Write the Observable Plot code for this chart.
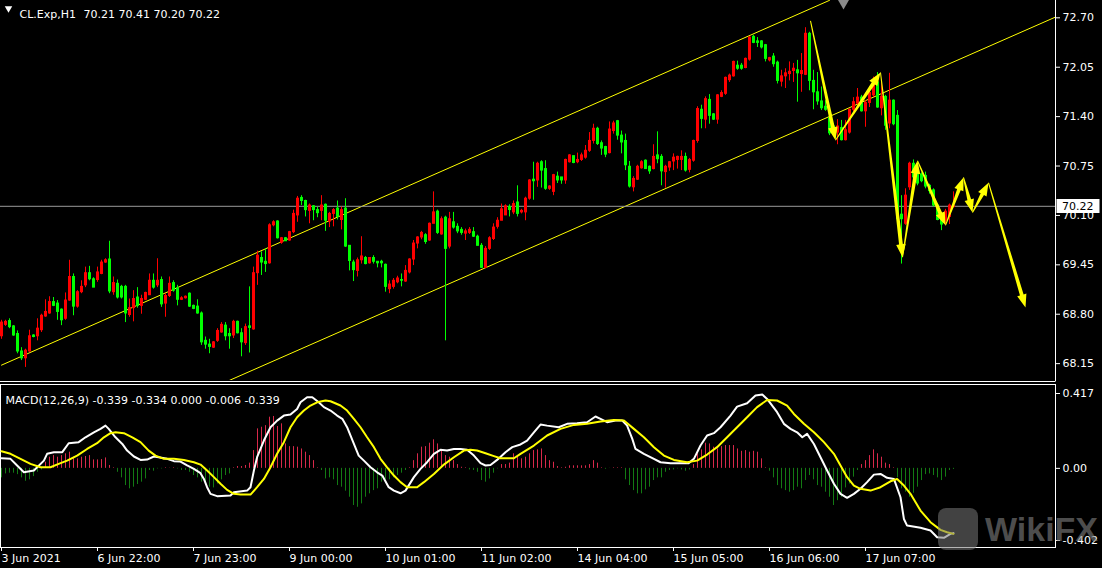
<!DOCTYPE html>
<html><head><meta charset="utf-8">
<script src="https://cdn.jsdelivr.net/npm/d3@7"></script>
<script src="https://cdn.jsdelivr.net/npm/@observablehq/plot@0.6"></script>
<style>
html,body{margin:0;padding:0;background:#000;width:1102px;height:568px;overflow:hidden}
#wrap{position:relative;width:1102px;height:568px;background:#000}
#wrap svg{display:block}
#wm{position:absolute;left:938px;top:508px;width:160px;height:46px;pointer-events:none}
#wm .logo{position:absolute;left:0;top:0;width:40px;height:42px;border-radius:8px;background:rgba(120,120,120,0.55)}
#wm .txt{position:absolute;left:47px;top:2px;font:bold 34px "Liberation Sans",sans-serif;color:rgba(130,130,130,0.6)}
</style></head><body><div id="wrap"></div>
<script>
// ---- data ----
const opens = [68.51,68.66,68.71,68.64,68.54,68.31,68.22,68.31,68.52,68.51,
68.59,68.77,68.81,68.96,68.94,68.86,68.74,68.98,69.29,68.90,
69.09,69.18,69.34,69.26,69.25,69.33,69.48,69.52,69.09,69.20,
69.16,69.16,68.79,68.88,69.02,68.91,68.99,69.05,69.24,69.18,
69.25,68.94,69.04,69.21,69.14,68.99,69.01,69.07,68.91,68.90,
68.81,68.45,68.40,68.36,68.45,68.56,68.65,68.54,68.52,68.70,
68.55,68.42,68.64,68.60,69.34,69.54,69.49,69.47,69.97,70.02,
69.74,69.80,69.77,69.88,70.10,70.33,70.29,70.16,70.22,70.17,
70.16,70.24,70.02,70.12,70.19,70.04,70.19,69.70,69.48,69.37,
69.51,69.54,69.47,69.54,69.49,69.49,69.45,69.13,69.16,69.22,
69.25,69.23,69.35,69.52,69.73,69.81,69.84,69.77,69.99,70.15,
69.85,70.07,69.69,70.01,69.95,69.91,69.86,69.87,69.88,69.82,
69.70,69.41,69.66,69.79,69.95,70.03,70.10,70.21,70.14,70.27,
70.14,70.14,70.32,70.57,70.56,70.80,70.71,70.45,70.41,70.61,
70.60,70.56,70.80,70.88,70.80,70.83,70.86,70.95,71.08,71.24,
71.05,71.00,70.92,71.21,71.34,71.15,71.08,70.74,70.47,70.57,
70.72,70.82,70.74,70.71,70.89,70.87,70.67,70.73,70.81,70.83,
70.83,70.87,70.70,70.82,71.08,71.49,71.36,71.62,71.43,71.36,
71.66,71.70,71.88,71.93,72.07,72.07,72.04,72.15,72.45,72.39,
72.39,72.34,72.14,72.19,72.11,71.86,71.93,71.96,72.00,72.01,
71.96,71.95,72.49,71.87,71.72,71.60,71.53,71.38,71.27,71.19,
71.25,71.09,71.19,71.49,71.57,71.65,71.47,71.58,71.68,71.85,
71.51,71.66,71.31,71.61,71.41,70.11,69.99,70.47,70.78,70.69,
70.64,70.62,70.49,70.43,70.23,70.08,70.03,70.08,70.21];
const highs = [68.72,68.72,68.74,68.65,68.58,68.36,68.34,68.59,68.53,68.74,
68.80,68.99,69.03,69.02,68.98,68.87,69.08,69.51,69.33,69.11,
69.24,69.42,69.43,69.28,69.42,69.51,69.53,69.76,69.29,69.25,
69.18,69.18,69.00,69.11,69.15,69.05,69.09,69.33,69.33,69.53,
69.29,69.07,69.29,69.24,69.18,69.03,69.04,69.08,68.92,68.99,
68.83,68.50,68.47,68.44,68.61,68.69,68.69,68.61,68.72,68.71,
68.61,68.67,69.16,69.42,69.63,69.62,69.66,69.99,70.03,70.03,
69.81,69.81,69.89,70.17,70.35,70.36,70.30,70.25,70.23,70.21,
70.36,70.25,70.14,70.19,70.29,70.21,70.32,69.70,69.51,69.54,
69.82,69.56,69.54,69.57,69.49,69.51,69.46,69.24,69.27,69.30,
69.33,69.44,69.53,69.77,69.82,69.89,69.86,70.00,70.41,70.17,
70.08,70.09,70.14,70.14,69.99,69.94,69.92,69.94,69.94,69.84,
69.73,69.69,69.82,69.99,70.07,70.25,70.24,70.24,70.29,70.49,
70.18,70.34,70.57,70.80,70.80,70.82,70.82,70.49,70.64,70.67,
70.60,70.84,70.90,70.88,70.92,70.92,71.02,71.19,71.30,71.26,
71.08,71.01,71.33,71.34,71.35,71.21,71.17,70.81,70.61,70.76,
70.82,70.83,70.75,71.03,71.20,70.90,70.76,70.81,70.91,70.88,
70.95,70.92,70.85,71.09,71.53,71.55,71.66,71.69,71.44,71.69,
71.74,71.92,71.96,72.13,72.13,72.10,72.17,72.45,72.47,72.44,
72.40,72.35,72.18,72.23,72.13,72.01,72.03,72.12,72.10,72.14,
72.23,72.57,72.51,72.01,71.98,71.79,71.61,71.41,71.30,71.36,
71.35,71.35,71.50,71.65,71.77,71.68,71.61,71.79,71.92,71.98,
71.85,71.68,71.97,71.62,71.48,70.36,70.45,70.80,70.83,70.73,
70.66,70.67,70.51,70.45,70.25,70.12,70.18,70.25,70.41];
const lows = [68.47,68.64,68.61,68.51,68.28,68.19,68.10,68.30,68.49,68.45,
68.56,68.76,68.80,68.90,68.72,68.65,68.72,68.97,68.78,68.88,
69.07,69.15,69.24,69.15,69.22,69.32,69.47,69.07,69.05,69.00,
69.00,68.69,68.76,68.70,68.88,68.80,68.98,69.05,69.13,69.15,
68.89,68.76,69.02,69.09,68.91,68.98,69.00,68.89,68.86,68.80,
68.39,68.34,68.28,68.35,68.43,68.55,68.45,68.34,68.48,68.54,
68.24,68.39,68.29,68.59,69.18,69.31,69.35,69.46,69.95,69.79,
69.72,69.76,69.76,69.86,70.01,70.23,70.08,69.99,70.03,70.07,
70.03,69.89,69.94,69.95,70.04,69.91,69.68,69.37,69.23,69.29,
69.46,69.45,69.46,69.46,69.41,69.41,69.09,69.07,69.13,69.20,
69.16,69.22,69.33,69.44,69.66,69.78,69.72,69.76,69.99,69.85,
69.84,68.45,69.66,69.92,69.86,69.84,69.77,69.85,69.81,69.70,
69.40,69.40,69.64,69.77,69.92,70.03,70.10,70.08,70.11,70.08,
70.12,70.03,70.30,70.30,70.47,70.46,70.43,70.43,70.36,70.52,
70.51,70.51,70.79,70.78,70.78,70.81,70.84,70.93,71.04,71.02,
70.89,70.86,70.91,71.17,71.09,70.91,70.69,70.46,70.41,70.56,
70.71,70.71,70.64,70.70,70.78,70.49,70.46,70.68,70.69,70.71,
70.69,70.67,70.66,70.80,71.05,71.24,71.24,71.30,71.35,71.30,
71.65,71.68,71.85,71.92,72.01,72.01,72.03,72.13,72.36,72.31,
72.29,72.12,72.12,72.05,71.83,71.79,71.77,71.87,71.85,71.59,
71.72,71.94,71.74,71.49,71.55,71.48,71.47,71.15,71.15,71.03,
71.08,71.08,71.17,71.46,71.55,71.46,71.26,71.52,71.65,71.51,
71.41,71.22,71.24,71.28,70.03,69.46,69.97,70.43,70.58,70.49,
70.53,70.45,70.38,70.21,70.03,69.90,69.98,69.98,70.20];
const closes = [68.69,68.70,68.63,68.52,68.31,68.22,68.32,68.51,68.50,68.61,
68.78,68.83,68.96,68.91,68.83,68.72,68.98,69.29,68.90,69.09,
69.16,69.34,69.26,69.15,69.35,69.48,69.51,69.10,69.21,69.02,
69.02,68.81,68.88,69.00,68.91,69.00,69.08,69.24,69.15,69.24,
68.93,69.04,69.20,69.11,68.99,69.01,69.03,68.90,68.87,68.81,
68.43,68.40,68.37,68.43,68.58,68.66,68.51,68.51,68.70,68.55,
68.43,68.63,68.62,69.34,69.57,69.48,69.46,69.97,70.01,69.80,
69.80,69.76,69.88,70.12,70.32,70.29,70.17,70.23,70.17,70.13,
70.23,70.03,70.12,70.17,70.08,70.17,69.69,69.50,69.38,69.51,
69.56,69.46,69.54,69.49,69.47,69.47,69.16,69.19,69.24,69.27,
69.24,69.37,69.52,69.73,69.81,69.87,69.75,69.99,70.14,69.87,
70.05,69.66,70.05,69.94,69.89,69.87,69.89,69.91,69.82,69.70,
69.41,69.66,69.80,69.94,70.03,70.18,70.22,70.17,70.25,70.12,
70.16,70.32,70.56,70.55,70.78,70.69,70.45,70.48,70.63,70.56,
70.56,70.83,70.89,70.79,70.83,70.89,70.95,71.08,71.24,71.04,
70.98,70.90,71.23,71.31,71.15,71.06,70.76,70.48,70.58,70.74,
70.80,70.71,70.68,70.87,70.84,70.68,70.74,70.80,70.86,70.87,
70.87,70.69,70.83,71.08,71.50,71.37,71.63,71.41,71.36,71.68,
71.71,71.91,71.94,72.12,72.03,72.03,72.16,72.44,72.37,72.37,
72.31,72.16,72.17,72.09,71.87,71.93,71.97,71.99,72.03,71.97,
72.00,72.49,71.87,71.72,71.60,71.51,71.49,71.18,71.19,71.27,
71.09,71.22,71.49,71.59,71.65,71.47,71.58,71.71,71.85,71.52,
71.66,71.28,71.61,71.30,70.05,70.05,70.36,70.78,70.60,70.52,
70.55,70.48,70.42,70.23,70.04,69.98,70.15,70.23,70.22];

const priceTicks = [72.70, 72.05, 71.40, 70.75, 70.10, 69.45, 68.80, 68.15];
const dateTicks = [0, 24, 48, 72, 96, 120, 144, 168, 192, 216];
const dateLabels = ["3 Jun 2021","6 Jun 22:00","7 Jun 23:00","9 Jun 00:00","10 Jun 01:00",
  "11 Jun 02:00","14 Jun 04:00","15 Jun 05:00","16 Jun 06:00","17 Jun 07:00"];
const macdTicks = [0.417, 0, -0.402];
const macdTickLabels = ["0.417", "0.00", "-0.402"];
const lastPrice = 70.22;
const symbolTitle = "CL.Exp,H1";
const ohlcTitle = "70.21 70.41 70.20 70.22";
const macdTitle = "MACD(12,26,9) -0.339 -0.334 0.000 -0.006 -0.339";

// channel lines (bar index, price)
const channelUpper = [[0, 68.13], [207, 72.93]];
const channelLower = [[57, 67.93], [263.5, 72.71]];
// projection arrows (bar index, price)
const arrowIdx = [202.25, 208.5, 219.75, 225.25, 229, 236, 240.5, 242.75, 246.75, 256];
const arrowPrice = [72.66, 71.09, 71.98, 69.55, 70.82, 69.97, 70.60, 70.14, 70.53, 68.89];

const histVals = [-0.053,-0.031,-0.027,-0.027,-0.035,-0.053,-0.072,-0.064,-0.046,-0.022,
-0.009,0.034,0.062,0.071,0.062,0.071,0.081,0.090,0.062,0.053,
0.062,0.066,0.071,0.047,0.047,0.049,0.058,0.016,0.003,-0.022,
-0.053,-0.096,-0.114,-0.105,-0.090,-0.077,-0.059,-0.012,-0.016,-0.003,
-0.003,0.003,0.001,0.003,-0.003,-0.012,-0.012,-0.022,-0.040,-0.053,
-0.077,-0.090,-0.105,-0.109,-0.087,-0.064,-0.040,-0.031,0.003,0.010,
0.010,0.016,0.029,0.099,0.220,0.229,0.238,0.285,0.289,0.233,
0.248,0.136,0.121,0.121,0.118,0.108,0.090,0.071,0.043,0.003,
-0.012,-0.059,-0.053,-0.064,-0.096,-0.105,-0.127,-0.161,-0.207,-0.217,
-0.198,-0.161,-0.142,-0.124,-0.114,-0.077,-0.064,-0.064,-0.053,-0.040,
-0.027,-0.012,0.003,0.043,0.081,0.118,0.121,0.140,0.159,0.136,
0.099,0.071,0.062,0.043,0.021,0.006,0.003,-0.009,-0.012,-0.022,
-0.068,-0.077,-0.059,-0.027,-0.003,0.021,0.021,0.029,0.081,0.071,
0.053,0.062,0.081,0.099,0.103,0.108,0.071,0.043,0.034,0.010,
0.003,0.006,0.014,0.014,0.014,0.014,0.014,0.021,0.043,0.029,
0.003,-0.005,-0.001,0.003,0.003,0.003,-0.064,-0.096,-0.124,-0.142,
-0.142,-0.120,-0.105,-0.068,-0.053,-0.053,-0.022,-0.012,-0.009,-0.003,
-0.009,-0.016,-0.009,0.021,0.081,0.103,0.140,0.136,0.118,0.108,
0.121,0.127,0.127,0.127,0.108,0.095,0.099,0.090,0.095,0.090,
0.053,0.003,-0.016,-0.053,-0.096,-0.114,-0.124,-0.133,-0.124,-0.105,
-0.114,-0.068,-0.040,-0.064,-0.096,-0.105,-0.133,-0.161,-0.207,-0.180,
-0.161,-0.109,-0.087,-0.049,-0.012,0.021,0.043,0.071,0.103,0.081,
0.062,0.029,0.021,0.003,-0.053,-0.114,-0.133,-0.161,-0.139,-0.105,
-0.068,-0.035,-0.031,-0.040,-0.053,-0.068,-0.049,-0.012,-0.006];

const macdWhite = [[0,0.056],[2.25,0.053],[3.9,0.016],[5.6,-0.022],[8.1,-0.012],[10.6,0.043],[11.4,0.081],[13.1,0.090],[15.2,0.090],[16.8,0.140],[19.3,0.146],[21,0.173],[23.1,0.201],[24.75,0.220],[26,0.238],[26.8,0.220],[28.5,0.173],[30.2,0.136],[31.4,0.099],[33.1,0.066],[34.75,0.047],[36.4,0.049],[38.1,0.066],[39.3,0.062],[41.4,0.053],[43.1,0.040],[44.75,0.038],[46.4,0.016],[48.1,-0.003],[49.75,-0.027],[50.6,-0.059],[51.4,-0.105],[52.25,-0.142],[53.9,-0.155],[57.25,-0.151],[58.1,-0.133],[61.4,-0.124],[62.25,-0.105],[63.1,-0.012],[63.9,0.062],[65.6,0.155],[67.25,0.229],[68.9,0.266],[70.6,0.294],[72.25,0.300],[73.9,0.331],[74.75,0.368],[76.4,0.396],[77.7,0.396],[79.3,0.368],[80.6,0.341],[82.25,0.322],[83.9,0.294],[85.2,0.276],[86.4,0.229],[88.1,0.136],[89.3,0.071],[90.6,0.043],[92.25,0.006],[93.9,-0.022],[95.2,-0.040],[96.8,-0.105],[98.1,-0.124],[99.75,-0.139],[101,-0.124],[103.1,-0.049],[104.75,-0.003],[106.4,0.034],[108.1,0.081],[109.75,0.103],[111.4,0.099],[113.1,0.108],[114.75,0.108],[116.4,0.103],[118.1,0.071],[119.75,0.029],[121,0.016],[122.25,0.019],[123.9,0.047],[126,0.090],[127.7,0.118],[129.75,0.133],[131.4,0.155],[133.1,0.201],[134.75,0.244],[136.4,0.238],[139.3,0.229],[141.4,0.248],[143.9,0.251],[146.4,0.257],[148.5,0.289],[149.75,0.276],[151.4,0.257],[153.5,0.266],[155.2,0.266],[156.4,0.238],[157.7,0.164],[158.5,0.108],[160.6,0.081],[163.1,0.053],[164.75,0.034],[167.25,0.029],[169.75,0.029],[171.8,0.029],[173.1,0.053],[174.75,0.127],[176.4,0.183],[178.1,0.196],[179.75,0.229],[182.25,0.294],[183.9,0.344],[186.4,0.363],[188.5,0.406],[190.2,0.411],[191.4,0.387],[193.9,0.313],[195.6,0.248],[197.25,0.220],[198.9,0.201],[200.2,0.173],[201.4,0.192],[203.1,0.136],[204.75,0.062],[206.4,-0.012],[208.1,-0.086],[209.75,-0.142],[211.4,-0.164],[213.1,-0.142],[214.75,-0.114],[216.4,-0.077],[218.1,-0.035],[219.75,-0.031],[221.4,-0.053],[223.1,-0.059],[224.75,-0.161],[225.6,-0.282],[226.4,-0.319],[229.75,-0.331],[232.25,-0.346],[233.9,-0.384],[235.6,-0.387],[237.25,-0.365],[238,-0.361]];
const macdYellow = [[0,0.095],[2.25,0.081],[4.75,0.053],[7.25,0.025],[9.75,0.006],[12.25,0.006],[14.3,0.025],[16.4,0.043],[18.9,0.071],[21.4,0.108],[23.9,0.140],[25.6,0.173],[27.25,0.196],[28.5,0.201],[30.6,0.196],[32.7,0.173],[34.75,0.146],[36.8,0.099],[38.5,0.071],[40.6,0.053],[43.1,0.053],[45.6,0.047],[48.1,0.034],[49.75,0.021],[51.4,-0.012],[53.1,-0.049],[54.75,-0.086],[56.4,-0.120],[58.1,-0.142],[59.75,-0.146],[62.25,-0.146],[63.9,-0.105],[65.6,-0.059],[67.25,0.006],[68.9,0.081],[70.6,0.146],[72.25,0.229],[73.9,0.285],[75.6,0.322],[77.25,0.350],[78.9,0.368],[81,0.378],[82.25,0.374],[84.75,0.350],[86.4,0.322],[88.1,0.276],[89.75,0.229],[91.4,0.173],[93.1,0.118],[94.75,0.053],[96.4,0.006],[98.1,-0.040],[99.75,-0.077],[101.4,-0.105],[103.9,-0.105],[105.6,-0.077],[108.1,-0.031],[110.6,0.021],[113.1,0.062],[115.6,0.099],[117.25,0.103],[118.9,0.099],[121,0.084],[123.1,0.068],[124.75,0.056],[128.1,0.056],[129.75,0.081],[133.1,0.127],[136.4,0.183],[139.75,0.220],[143.1,0.242],[146.4,0.248],[149.75,0.261],[153.1,0.270],[155.6,0.266],[158.1,0.220],[160.6,0.173],[163.1,0.118],[165.6,0.071],[168.1,0.047],[171.4,0.034],[173.9,0.043],[176.4,0.077],[178.9,0.118],[181.4,0.173],[183.9,0.229],[186.4,0.285],[188.9,0.341],[191.4,0.381],[193.9,0.378],[196.4,0.350],[198.1,0.303],[200.6,0.248],[203.1,0.201],[205.6,0.146],[208.1,0.081],[209.75,0.016],[211.4,-0.049],[213.1,-0.096],[214.75,-0.114],[217.25,-0.124],[219.75,-0.105],[222.25,-0.072],[223.9,-0.059],[225.6,-0.096],[227.25,-0.142],[229.75,-0.235],[232.25,-0.300],[234.75,-0.343],[236.4,-0.356],[238,-0.365]];

// ---- build ----
const UP = "#ff0000", DOWN = "#00ff00";
const candles = opens.map((o, k) => ({i: k, open: o, high: highs[k], low: lows[k], close: closes[k]}));
const candleColor = d => d.close >= d.open ? UP : DOWN;
const hist = histVals.map((h, k) => ({i: k, h}));
const FONT = "DejaVu Sans, Verdana, sans-serif";
const xDomain = [-0.25, 263.5];

const main = Plot.plot({
  width: 1102, height: 383,
  marginLeft: 0, marginRight: 47, marginTop: 0, marginBottom: 3,
  x: {domain: xDomain, axis: null, label: null},
  y: {domain: [67.928, 72.928], axis: null, label: null},
  style: {background: "#000", color: "#fff", fontFamily: FONT, fontSize: "11px", overflow: "visible"},
  marks: [
    Plot.line(channelUpper, {x: d => d[0], y: d => d[1], stroke: "#ffff00", strokeWidth: 1, clip: true}),
    Plot.line(channelLower, {x: d => d[0], y: d => d[1], stroke: "#ffff00", strokeWidth: 1, clip: true}),
    Plot.ruleY([lastPrice], {stroke: "#9a9a9a", strokeWidth: 1}),
    Plot.ruleX(candles, {x: "i", y1: "low", y2: "high", stroke: candleColor, strokeWidth: 1}),
    Plot.ruleX(candles, {x: "i", y1: d => Math.max(d.open, d.close), y2: d => Math.min(d.open, d.close),
      stroke: candleColor, strokeWidth: 3, insetTop: -0.5, insetBottom: -0.5}),
    Plot.axisY({anchor: "right", label: null, ticks: priceTicks, tickFormat: d => d.toFixed(2), tickSize: 4, tickPadding: 3, fontSize: 11}),
    Plot.dot([symbolTitle], {frameAnchor: "top-left", dx: 8, dy: 8, symbol: "triangle", rotate: 180, r: 2.8, fill: "#fff", stroke: null}),
    Plot.text([symbolTitle], {frameAnchor: "top-left", dx: 19, dy: 10, text: d => d, textAnchor: "start", fill: "#fff", fontSize: 11}),
    Plot.text([ohlcTitle], {frameAnchor: "top-left", dx: 83, dy: 10, text: d => d, textAnchor: "start", fill: "#fff", fontSize: 11}),
    Plot.dot([0], {frameAnchor: "top-left", dx: 843, dy: 2, symbol: "triangle", rotate: 180, r: 4.5, fill: "#8a8a8a", stroke: null})
  ]
});

const macd = Plot.plot({
  width: 1102, height: 185,
  marginLeft: 0, marginRight: 47, marginTop: 1, marginBottom: 21,
  x: {domain: xDomain, axis: null, label: null},
  y: {domain: [-0.402, 0.417], range: [157, 10], axis: null, label: null},
  style: {background: "#000", color: "#fff", fontFamily: FONT, fontSize: "11px", overflow: "visible"},
  marks: [
    Plot.frame({stroke: "#fff"}),
    Plot.ruleX(hist, {x: "i", y1: 0, y2: "h", stroke: d => d.h >= 0 ? "#d8284a" : "#137a13", strokeWidth: 1}),
    Plot.line(macdWhite, {x: d => d[0], y: d => d[1], stroke: "#ffffff", strokeWidth: 2}),
    Plot.line(macdYellow, {x: d => d[0], y: d => d[1], stroke: "#ffff00", strokeWidth: 2}),
    Plot.axisY({anchor: "right", label: null, ticks: macdTicks, tickFormat: d => macdTickLabels[macdTicks.indexOf(d)], tickSize: 4, tickPadding: 3, fontSize: 11}),
    Plot.axisX({anchor: "bottom", label: null, ticks: dateTicks, tickFormat: d => dateLabels[dateTicks.indexOf(d)], tickSize: 4, tickPadding: 3, textAnchor: "start", fontSize: 11}),
    Plot.text([macdTitle], {frameAnchor: "top-left", dx: 5, dy: 12, text: d => d, textAnchor: "start", fill: "#fff", fontSize: 11})
  ]
});

const wrap = document.getElementById("wrap");
wrap.appendChild(main);
wrap.appendChild(macd);

// frame edges, price tag and projection arrows, placed with the plot's own scales
const sx = main.scale("x"), sy = main.scale("y");
const svg = d3.select(main);
const right = Math.max(...sx.range), bottom = Math.max(...sy.range);
svg.append("line").attr("x1", right + 0.5).attr("x2", right + 0.5).attr("y1", 0).attr("y2", bottom + 1).attr("stroke", "#fff");
svg.append("line").attr("x1", 0).attr("x2", right + 0.5).attr("y1", bottom + 1.5).attr("y2", bottom + 1.5).attr("stroke", "#fff");

const ag = svg.append("g").attr("fill", "#ffff00");
for (let k = 0; k < arrowIdx.length - 1; k++) {
  const x0 = sx.apply(arrowIdx[k]) + 0.5, y0 = sy.apply(arrowPrice[k]) + 0.5;
  const x1 = sx.apply(arrowIdx[k + 1]) + 0.5, y1 = sy.apply(arrowPrice[k + 1]) + 0.5;
  const dx = x1 - x0, dy = y1 - y0, L = Math.hypot(dx, dy);
  const ux = dx / L, uy = dy / L, nx = -uy, ny = ux;
  const head = 13, hw = 4.8, w0 = 0.5, w1 = 1.9;
  const bx = x1 - ux * head, by = y1 - uy * head;
  const pts = [
    [x0 + nx * w0, y0 + ny * w0], [bx + nx * w1, by + ny * w1], [bx + nx * hw, by + ny * hw],
    [x1, y1], [bx - nx * hw, by - ny * hw], [bx - nx * w1, by - ny * w1], [x0 - nx * w0, y0 - ny * w0]];
  ag.append("polygon").attr("points", pts.map(p => p.join(",")).join(" "));
}

const py = Math.round(sy.apply(lastPrice) + 0.5);
const tag = svg.append("g").attr("text-anchor", "start");
tag.append("rect").attr("x", right + 1.5).attr("y", py - 7).attr("width", 43).attr("height", 14).attr("fill", "#ffffff").attr("stroke", "none");
tag.append("text").attr("x", right + 7).attr("y", py + 4).attr("fill", "#000000").attr("text-anchor", "start")
  .attr("font-family", FONT).attr("font-size", 11).text(lastPrice.toFixed(2));

// watermark
const wm = document.createElement("div");
wm.id = "wm";
wm.innerHTML = '<div class="logo"></div><div class="txt">WikiFX</div>';
wrap.appendChild(wm);
</script>
</body></html>
